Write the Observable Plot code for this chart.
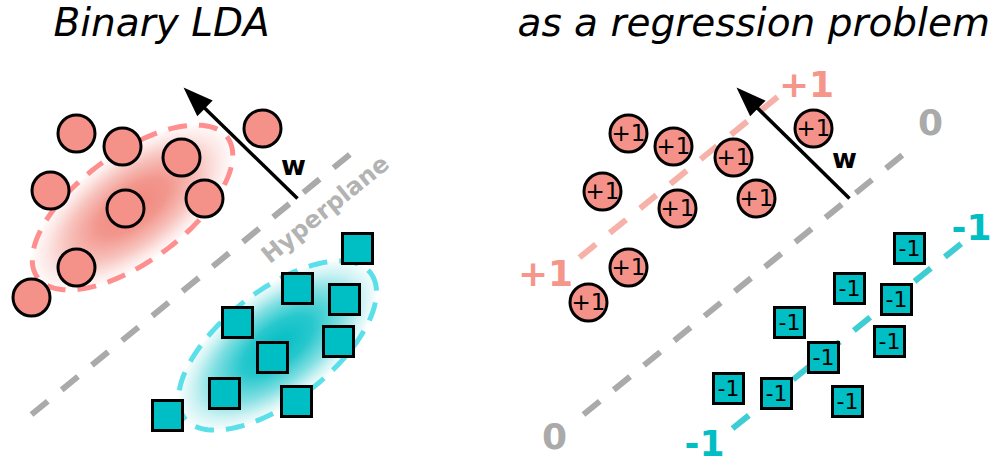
<!DOCTYPE html>
<html><head><meta charset="utf-8">
<script src="https://cdn.jsdelivr.net/npm/d3@7"></script>
<script src="https://cdn.jsdelivr.net/npm/@observablehq/plot@0.6"></script>
<style>body{margin:0;background:#fff} svg{display:block}</style>
</head><body><div id="chart"></div>
<script>
// ---- data (pixel-space diagram coordinates) ----
const titles = [
  {text: "Binary LDA", x: 53, y: 23},
  {text: "as a regression problem", x: 517, y: 23}
];
const leftCircles = [[76,133],[122,146],[181,157],[50,190],[125,208],[204,198],[76,267],[31,297],[262,128]];
const leftSquares = [[357,248],[297,288],[344,299],[237,322],[272,357],[338,341],[224,393],[296,401],[167,415]];
const rightCircles = [[628,133],[673,146],[733,157],[602,191],[677,208],[756,198],[628,267],[588,302],[813,128]];
const rightSquares = [[909,248],[849,288],[896,299],[789,322],[823,357],[889,341],[728,388],[776,393],[847,401]];
const ellipses = [
  {id: "gRed", cx: 132, cy: 207, a: 118, b: 54, deg: -36.4, fill: "#f0857a", stroke: "#ff8e8e"},
  {id: "gTeal", cx: 277, cy: 345, a: 118, b: 55, deg: -38, fill: "#00bec4", stroke: "#5be0ea"}
];
const dashLines = [
  {x1: 31, y1: 414, x2: 353, y2: 151, color: "#aaaaaa"},
  {x1: 583, y1: 414, x2: 905, y2: 152, color: "#aaaaaa"},
  {x1: 579, y1: 257, x2: 780, y2: 94, color: "#f6b2a8"},
  {x1: 732, y1: 428, x2: 961, y2: 243, color: "#3ecdd2"}
];
const arrows = [
  {x1: 297, y1: 198, x2: 183, y2: 87},
  {x1: 849, y1: 198, x2: 736, y2: 87}
];
const wLabels = [{x: 293, y: 166}, {x: 844, y: 159}];
const lineLabels = [
  {text: "+1", x: 806, y: 85, color: "#f5968b"},
  {text: "+1", x: 545, y: 274, color: "#f5968b"},
  {text: "0", x: 930, y: 123, color: "#aaaaaa"},
  {text: "0", x: 554, y: 437, color: "#aaaaaa"},
  {text: "-1", x: 971, y: 228, color: "#00bec4"},
  {text: "-1", x: 704, y: 444, color: "#00bec4"}
];
const hyperLabel = [{text: "Hyperplane", x: 325, y: 209, angle: -39}];
const posLabel = "+1", negLabel = "-1";

// ---- custom symbols ----
function ellipseSymbol(a, b, deg) {
  const t = deg * Math.PI / 180, c = Math.cos(t), s = Math.sin(t);
  return {draw(ctx) {
    const n = 144;
    for (let k = 0; k <= n; k++) {
      const u = 2 * Math.PI * k / n, ex = a * Math.cos(u), ey = b * Math.sin(u);
      const px = ex * c - ey * s, py = ex * s + ey * c;
      k ? ctx.lineTo(px, py) : ctx.moveTo(px, py);
    }
    ctx.closePath();
  }};
}
const HEAD_L = 30, HEAD_W = 22;
function headSymbol(d) {
  const dx = d.x2 - d.x1, dy = d.y2 - d.y1, len = Math.hypot(dx, dy);
  const ux = dx / len, uy = dy / len, nx = -uy, ny = ux;
  return {draw(ctx) {
    ctx.moveTo(0, 0);
    ctx.lineTo(-HEAD_L * ux + HEAD_W / 2 * nx, -HEAD_L * uy + HEAD_W / 2 * ny);
    ctx.lineTo(-HEAD_L * ux - HEAD_W / 2 * nx, -HEAD_L * uy - HEAD_W / 2 * ny);
    ctx.closePath();
  }};
}
const shafts = arrows.map(d => {
  const dx = d.x2 - d.x1, dy = d.y2 - d.y1, len = Math.hypot(dx, dy);
  return {x1: d.x1, y1: d.y1, x2: d.x2 - dx / len * HEAD_L * 0.8, y2: d.y2 - dy / len * HEAD_L * 0.8};
});

const toObj = ([x, y]) => ({x, y});
const SQ_R = 30 / Math.sqrt(Math.PI);

const marks = [];
for (const e of ellipses) {
  marks.push(Plot.dot([e], {x: "cx", y: "cy", r: 10, symbol: ellipseSymbol(e.a, e.b, e.deg),
    fill: `url(#${e.id})`, stroke: e.stroke, strokeWidth: 5, strokeDasharray: "19,12"}));
}
marks.push(
  Plot.link(dashLines, {x1: "x1", y1: "y1", x2: "x2", y2: "y2", stroke: "color",
    strokeWidth: 6, strokeDasharray: "21,18", strokeLinecap: "butt"}),
  Plot.link(shafts, {x1: "x1", y1: "y1", x2: "x2", y2: "y2", stroke: "black", strokeWidth: 3.5}),
  ...arrows.map(d => Plot.dot([d], {x: "x2", y: "y2", r: 10, symbol: headSymbol(d), fill: "black", stroke: "none"})),
  Plot.text(hyperLabel, {x: "x", y: "y", text: "text", rotate: d => d.angle, fill: "#b3b3b3",
    fontSize: 24, fontWeight: "bold", fontFamily: "DejaVu Sans"}),
  Plot.text(wLabels, {x: "x", y: "y", text: () => "w", fill: "black", fontSize: 27, fontWeight: "bold", fontFamily: "DejaVu Sans"}),
  Plot.dot([...leftCircles, ...rightCircles].map(toObj), {x: "x", y: "y", r: 18.5, fill: "#f4928a", stroke: "black", strokeWidth: 3}),
  Plot.dot([...leftSquares, ...rightSquares].map(toObj), {x: "x", y: "y", r: SQ_R, symbol: "square", fill: "#00bfc4", stroke: "black", strokeWidth: 3}),
  Plot.text(rightCircles.map(toObj), {x: "x", y: "y", text: () => posLabel, fill: "black", fontSize: 23, fontFamily: "DejaVu Sans"}),
  Plot.text(rightSquares.map(toObj), {x: "x", y: "y", text: () => negLabel, fill: "black", fontSize: 22, fontFamily: "DejaVu Sans"}),
  Plot.text(lineLabels, {x: "x", y: "y", text: "text", fill: "color", fontSize: 36, fontWeight: "bold", fontFamily: "DejaVu Sans"}),
  Plot.text(titles, {x: "x", y: "y", text: "text", textAnchor: "start", fill: "black", fontSize: 39, fontStyle: "italic", fontFamily: "DejaVu Sans"})
);

const svg = Plot.plot({
  width: 992, height: 464,
  margin: 0,
  x: {domain: [0, 992], range: [0, 992], axis: null},
  y: {domain: [0, 464], range: [0, 464], axis: null},
  style: {background: "white", overflow: "visible"},
  marks
});

// radial gradients for the ellipse fills
const defs = d3.select(svg).insert("defs", ":first-child");
for (const e of ellipses) {
  const g = defs.append("radialGradient").attr("id", e.id)
    .attr("gradientUnits", "userSpaceOnUse")
    .attr("cx", 0).attr("cy", 0).attr("r", 1)
    .attr("gradientTransform", `rotate(${e.deg}) scale(${e.a},${e.b})`);
  [[0, 1], [0.35, 0.85], [0.65, 0.5], [0.85, 0.2], [1, 0.03]].forEach(([o, op]) =>
    g.append("stop").attr("offset", o).attr("stop-color", e.fill).attr("stop-opacity", op));
}
document.getElementById("chart").appendChild(svg);
</script>
</body></html>
